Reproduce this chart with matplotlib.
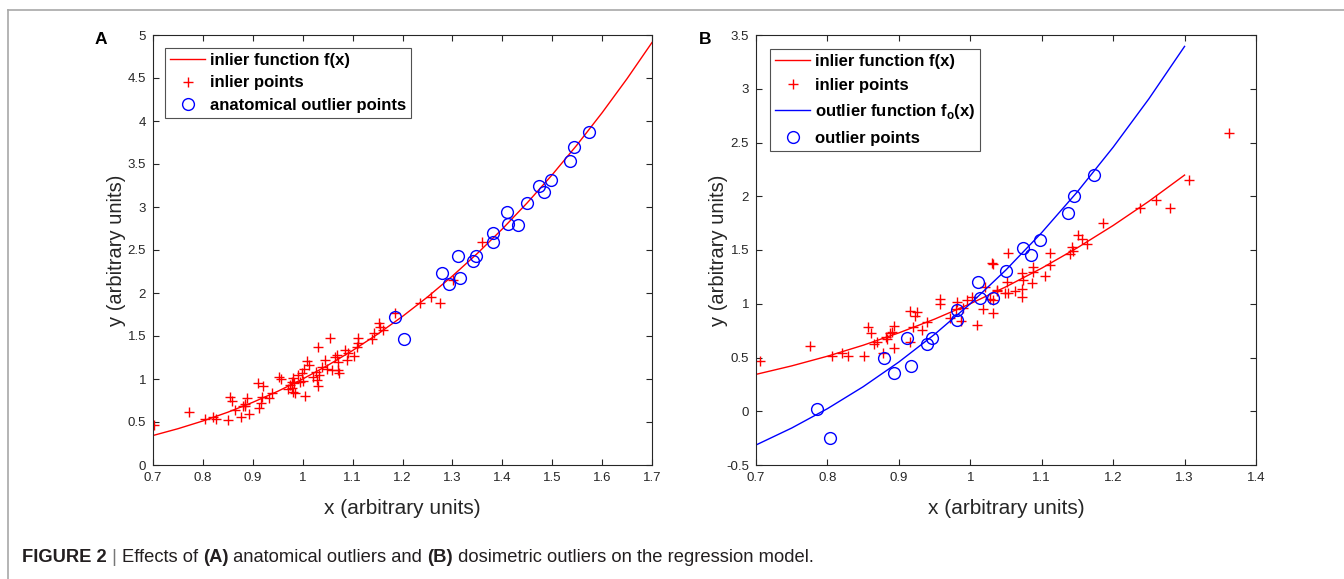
import matplotlib
matplotlib.use("Agg")
import matplotlib.pyplot as plt
from matplotlib.lines import Line2D
from matplotlib.ticker import FuncFormatter

plt.rcParams['font.family'] = ['Liberation Sans', 'DejaVu Sans']
plt.rcParams['mathtext.fontset'] = 'custom'
plt.rcParams['mathtext.rm'] = 'Liberation Sans'
plt.rcParams['mathtext.bf'] = 'Liberation Sans:bold'

# ---------------- Panel A data ----------------
curveA_x = [0.70, 0.75, 0.80, 0.85, 0.90, 0.95, 1.00, 1.05, 1.10, 1.15, 1.20,
            1.25, 1.30, 1.35, 1.40, 1.45, 1.50, 1.55, 1.60, 1.65, 1.70]
curveA_y = [0.343, 0.422, 0.512, 0.614, 0.729, 0.857, 1.000, 1.158, 1.331, 1.521, 1.728,
            1.953, 2.197, 2.460, 2.744, 3.049, 3.375, 3.724, 4.096, 4.492, 4.913]

inlierA_x = [0.702, 0.773, 0.804, 0.821, 0.826, 0.850, 0.854, 0.858, 0.864, 0.876,
             0.881, 0.884, 0.889, 0.892, 0.911, 0.921, 0.919, 0.913, 0.916, 0.933,
             0.938, 0.953, 0.957, 0.970, 0.975, 0.978, 0.981, 0.980, 0.985, 0.991,
             0.998, 1.003, 1.005, 1.008, 1.013, 1.021, 1.026, 1.028, 1.030, 1.031,
             1.033, 1.038, 1.045, 1.048, 1.055, 1.058, 1.065, 1.068, 1.071, 1.071,
             1.073, 1.085, 1.088, 1.103, 1.108, 1.111, 1.138, 1.142, 1.152, 1.155,
             1.160, 1.184, 1.235, 1.257, 1.275, 1.301, 1.359, 0.884, 0.978, 0.995,
             1.000, 0.983, 1.090, 1.110]
inlierA_y = [0.465, 0.620, 0.531, 0.562, 0.531, 0.523, 0.794, 0.748, 0.640, 0.554,
             0.686, 0.709, 0.775, 0.589, 0.957, 0.918, 0.794, 0.659, 0.717, 0.775,
             0.833, 1.027, 0.996, 0.880, 0.930, 0.969, 1.008, 0.853, 0.833, 1.046,
             1.066, 1.112, 0.802, 1.209, 1.163, 1.027, 1.085, 0.988, 0.918, 1.376,
             1.046, 1.136, 1.221, 1.112, 1.473, 1.104, 1.260, 1.279, 1.201, 1.104,
             1.066, 1.337, 1.221, 1.267, 1.376, 1.473, 1.461, 1.531, 1.647, 1.608,
             1.570, 1.763, 1.887, 1.957, 1.887, 2.151, 2.597, 0.690, 0.900, 0.960,
             0.980, 0.950, 1.300, 1.420]

outlierA_x = [1.185, 1.203, 1.279, 1.293, 1.311, 1.315, 1.341, 1.347, 1.381, 1.381,
              1.410, 1.412, 1.431, 1.449, 1.474, 1.484, 1.497, 1.536, 1.544, 1.573]
outlierA_y = [1.717, 1.461, 2.236, 2.104, 2.430, 2.170, 2.372, 2.430, 2.694, 2.597,
              2.938, 2.802, 2.791, 3.042, 3.244, 3.178, 3.314, 3.539, 3.694, 3.868]

# ---------------- Panel B data ----------------
curveB_x = [0.70, 0.75, 0.80, 0.85, 0.90, 0.95, 1.00, 1.05, 1.10, 1.15, 1.20, 1.25, 1.30]
curveB_inlier_y = [0.343, 0.422, 0.512, 0.614, 0.729, 0.857, 1.000, 1.158, 1.331, 1.521,
                   1.728, 1.953, 2.197]
curveB_outlier_y = [-0.314, -0.156, 0.024, 0.228, 0.458, 0.715, 1.000, 1.315, 1.662, 2.042,
                    2.456, 2.906, 3.394]

inlierB_x = [0.705, 0.775, 0.807, 0.820, 0.829, 0.851, 0.857, 0.861, 0.865, 0.870,
             0.878, 0.882, 0.884, 0.887, 0.890, 0.893, 0.893, 0.915, 0.920, 0.923,
             0.926, 0.916, 0.933, 0.939, 0.957, 0.958, 0.971, 0.980, 0.982, 0.987,
             0.990, 0.995, 1.002, 1.009, 1.021, 1.018, 1.027, 1.032, 1.032, 1.037,
             1.049, 1.051, 1.362, 1.306, 1.260, 1.237, 1.280, 1.186, 1.151, 1.157,
             1.163, 1.142, 1.140, 1.144, 1.112, 1.111, 1.105, 1.088, 1.088, 1.086,
             1.072, 1.074, 1.073, 1.072, 1.063, 1.053, 1.053, 1.031, 1.037, 1.032]
inlierB_y = [0.471, 0.610, 0.514, 0.539, 0.514, 0.514, 0.787, 0.725, 0.626, 0.647,
             0.545, 0.688, 0.669, 0.725, 0.740, 0.793, 0.585, 0.936, 0.787, 0.886,
             0.926, 0.647, 0.756, 0.833, 1.041, 0.998, 0.864, 0.948, 1.019, 0.843,
             0.957, 1.035, 1.060, 0.802, 1.159, 0.948, 1.041, 1.370, 0.911, 1.128,
             1.097, 1.205, 2.591, 2.151, 1.965, 1.887, 1.887, 1.754, 1.639, 1.599,
             1.555, 1.531, 1.462, 1.493, 1.469, 1.360, 1.261, 1.345, 1.298, 1.196,
             1.283, 1.221, 1.134, 1.066, 1.121, 1.097, 1.469, 1.376, 1.121, 1.035]

outlierB_x = [0.786, 0.804, 0.879, 0.893, 0.911, 0.917, 0.940, 0.946, 0.981, 0.981,
              1.011, 1.013, 1.032, 1.050, 1.074, 1.085, 1.097, 1.137, 1.145, 1.173]
outlierB_y = [0.021, -0.252, 0.492, 0.359, 0.684, 0.424, 0.626, 0.678, 0.942, 0.849,
              1.199, 1.050, 1.050, 1.308, 1.521, 1.453, 1.593, 1.847, 2.002, 2.197]

xticksA = [0.7, 0.8, 0.9, 1.0, 1.1, 1.2, 1.3, 1.4, 1.5, 1.6, 1.7]
yticksA = [0, 0.5, 1, 1.5, 2, 2.5, 3, 3.5, 4, 4.5, 5]
xticksB = [0.7, 0.8, 0.9, 1.0, 1.1, 1.2, 1.3, 1.4]
yticksB = [-0.5, 0, 0.5, 1, 1.5, 2, 2.5, 3, 3.5]

# ---------------- Figure ----------------
W, H = 1344, 579
fig = plt.figure(figsize=(W / 100, H / 100), dpi=100)

RED = '#ff0000'
BLUE = '#0000ff'
SPINE = '#262626'
gfmt = FuncFormatter(lambda v, p: '%g' % round(v, 6))


def px_rect(l, r, t, b):
    return [l / W, 1 - b / H, (r - l) / W, (b - t) / H]


def style(ax, xt, yt, xl, yl, ylab_x):
    ax.set_xlim(xl)
    ax.set_ylim(yl)
    ax.set_xticks(xt)
    ax.set_yticks(yt)
    ax.xaxis.set_major_formatter(gfmt)
    ax.yaxis.set_major_formatter(gfmt)
    ax.tick_params(direction='in', top=True, right=True, length=4, width=0.8,
                   colors=SPINE, labelsize=9.5, labelcolor='#262626', pad=5)
    for s in ax.spines.values():
        s.set_color(SPINE)
        s.set_linewidth(0.8)
    ax.set_xlabel('x (arbitrary units)', fontsize=15, color='#262626', va='center')
    ax.set_ylabel('y (arbitrary units)', fontsize=14.5, color='#262626', va='center')
    ax.xaxis.set_label_coords(0.5, -43 / 430)
    ax.yaxis.set_label_coords(ylab_x, 0.5)


LEG_KW = dict(loc='upper left', borderaxespad=0, prop={'weight': 'bold', 'size': 12},
              frameon=True, fancybox=False, edgecolor='#262626', handlelength=2.1,
              handletextpad=0.3, borderpad=0.3)

axA = fig.add_axes(px_rect(153, 652, 35, 465))
axA.plot(curveA_x, curveA_y, color=RED, lw=1.0, label='inlier function f(x)')
axA.plot(inlierA_x, inlierA_y, ls='none', marker='+', color=RED, ms=7.5, mew=1.0,
         label='inlier points')
axA.plot(outlierA_x, outlierA_y, ls='none', marker='o', mfc='none', mec=BLUE, ms=8.5,
         mew=1.0, label='anatomical outlier points')
style(axA, xticksA, yticksA, (0.7, 1.7), (0, 5), (116 - 153) / 499)
legA = axA.legend(bbox_to_anchor=(12 / 499, 1 - 13 / 430), labelspacing=0.45, **LEG_KW)
legA.get_frame().set_linewidth(0.8)

axB = fig.add_axes(px_rect(756, 1256, 35, 465))
axB.plot(curveB_x, curveB_inlier_y, color=RED, lw=1.0, label='inlier function f(x)')
axB.plot(inlierB_x, inlierB_y, ls='none', marker='+', color=RED, ms=7.5, mew=1.0,
         label='inlier points')
axB.plot(curveB_x, curveB_outlier_y, color=BLUE, lw=1.0,
         label=r'outlier function f$_\mathbf{o}$(x)')
axB.plot(outlierB_x, outlierB_y, ls='none', marker='o', mfc='none', mec=BLUE, ms=8.5,
         mew=1.0, label='outlier points')
style(axB, xticksB, yticksB, (0.7, 1.4), (-0.5, 3.5), (718 - 756) / 500)
legB = axB.legend(bbox_to_anchor=(14 / 500, 1 - 14 / 430), labelspacing=0.55, **LEG_KW)
legB.get_frame().set_linewidth(0.8)

# panel letters
fig.text(101 / W, 1 - 39 / H, 'A', fontsize=12.5, fontweight='bold', ha='center', va='center')
fig.text(705 / W, 1 - 39 / H, 'B', fontsize=12.5, fontweight='bold', ha='center', va='center')

# frame lines (left and top)
fig.add_artist(Line2D([8 / W, 8 / W], [0, 1 - 10 / H], transform=fig.transFigure,
                      color='#a8a8a8', lw=1.2))
fig.add_artist(Line2D([8 / W, 1], [1 - 10 / H, 1 - 10 / H], transform=fig.transFigure,
                      color='#a8a8a8', lw=1.2))

# caption
caption = [('FIGURE 2', 'bold', '#231f20'), (' | ', 'normal', '#777777'),
           ('Effects of ', 'normal', '#231f20'), ('(A)', 'bold', '#231f20'),
           (' anatomical outliers and ', 'normal', '#231f20'), ('(B)', 'bold', '#231f20'),
           (' dosimetric outliers on the regression model.', 'normal', '#231f20')]
fig.canvas.draw()
renderer = fig.canvas.get_renderer()
xpos = 22 / W
for txt, wt, col in caption:
    t = fig.text(xpos, 1 - 558 / H, txt, fontsize=13.2, fontweight=wt, color=col,
                 family=['Liberation Sans Narrow', 'Liberation Sans', 'DejaVu Sans'],
                 va='center', ha='left')
    bb = t.get_window_extent(renderer=renderer)
    xpos += bb.width / W

fig.savefig('out.png', dpi=100)
